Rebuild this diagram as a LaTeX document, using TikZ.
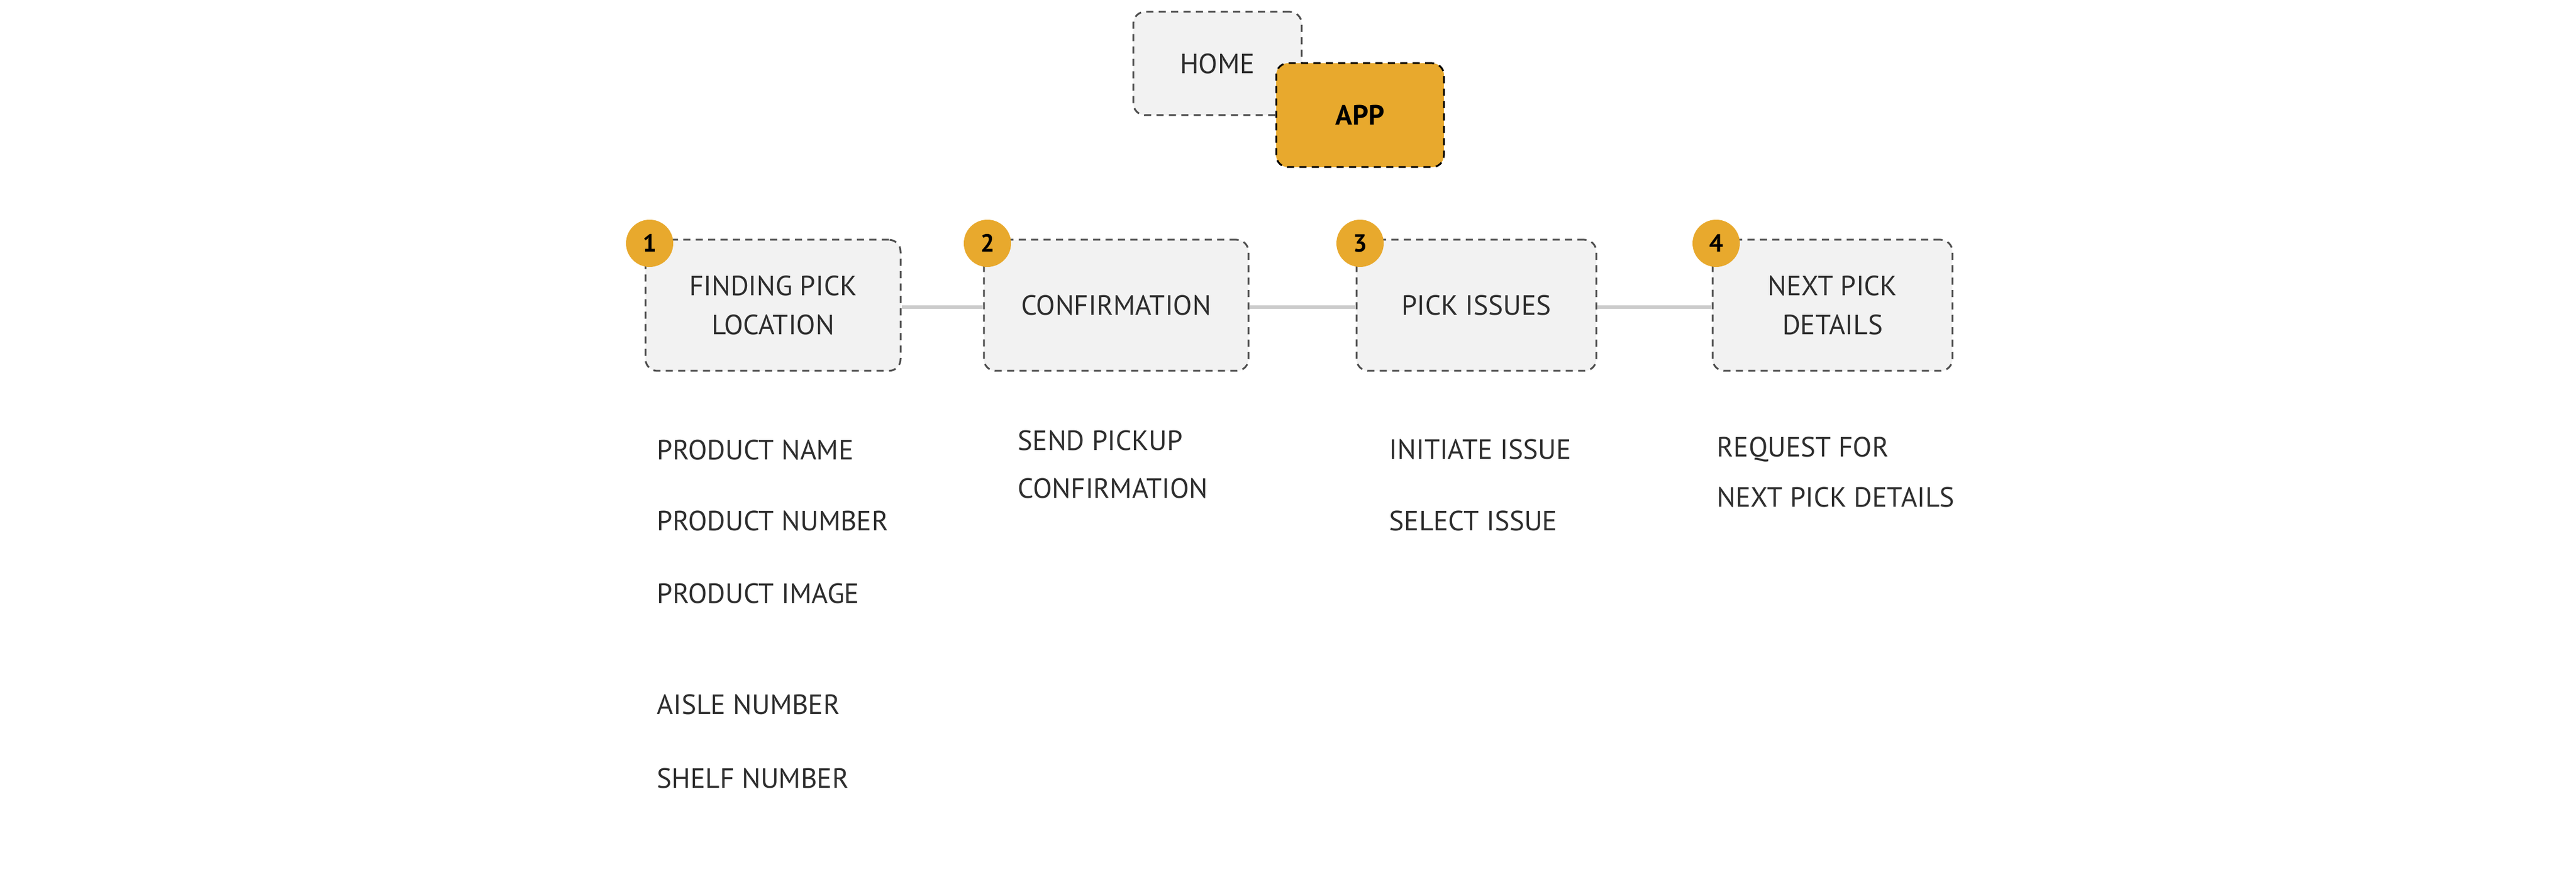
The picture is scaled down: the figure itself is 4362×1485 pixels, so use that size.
\documentclass[tikz,border=0pt]{standalone}
\usepackage{fontspec}
\setmainfont{PT Sans}
\begin{document}
\begin{tikzpicture}[x=0.25pt,y=-0.25pt,
  every node/.style={font=\fontsize{11.8}{16.5}\selectfont},
  stepbox/.style={draw=boxborder, fill=boxfill, dash pattern=on 3pt off 2.25pt, line width=0.75pt,
    rounded corners=5pt, minimum height=55.5pt, align=center, text=textdark, inner sep=0pt},
  badge/.style={circle, fill=gold, minimum size=20pt, inner sep=0pt,
    font=\fontsize{10.5}{12}\selectfont\bfseries, text=black},
  item/.style={anchor=west, text=textdark, inner sep=0pt},
  link/.style={draw=linegray, line width=1.5pt}
]
\definecolor{boxfill}{HTML}{F2F2F2}
\definecolor{boxborder}{HTML}{4D4D4D}
\definecolor{gold}{HTML}{E8A92D}
\definecolor{textdark}{HTML}{2D2D2D}
\definecolor{linegray}{HTML}{CCCCCC}
\useasboundingbox (0,0) rectangle (4362,1485);

% top
\node[stepbox, minimum width=71.25pt, minimum height=43.75pt] (home) at (2061.5,107.5) {HOME};
\node[stepbox, draw=black, fill=gold, text=black, minimum width=71pt, minimum height=44pt,
  font=\fontsize{11.8}{16.5}\selectfont\bfseries] (app) at (2303,195) {APP};

% steps
\node[stepbox, minimum width=108pt] (s1) at (1309,517) {FINDING PICK\\LOCATION};
\node[stepbox, minimum width=112pt] (s2) at (1890,517) {CONFIRMATION};
\node[stepbox, minimum width=101.5pt] (s3) at (2500,517) {PICK ISSUES};
\node[stepbox, minimum width=101.5pt] (s4) at (3103,517) {NEXT PICK\\DETAILS};

\draw[link] ([yshift=-0.75pt]s1.east) -- ([yshift=-0.75pt]s2.west);
\draw[link] ([yshift=-0.75pt]s2.east) -- ([yshift=-0.75pt]s3.west);
\draw[link] ([yshift=-0.75pt]s3.east) -- ([yshift=-0.75pt]s4.west);

\node[badge] (b1) at (1100,412) {1};
\node[badge] (b2) at (1672,412) {2};
\node[badge] (b3) at (2303,412) {3};
\node[badge] (b4) at (2906,412) {4};

% lists
\node[item] (p1) at (1112,762) {PRODUCT NAME};
\node[item] (p2) at (1112,882) {PRODUCT NUMBER};
\node[item] (p3) at (1112,1005) {PRODUCT IMAGE};
\node[item] (p4) at (1112,1193) {AISLE NUMBER};
\node[item] (p5) at (1112,1318) {SHELF NUMBER};

\node[item] (c1) at (1723,746) {SEND PICKUP};
\node[item] (c2) at (1723,827) {CONFIRMATION};

\node[item] (i1) at (2352,761) {INITIATE ISSUE};
\node[item] (i2) at (2352,882) {SELECT ISSUE};

\node[item] (n1) at (2907,761) {REQUEST FOR};
\node[item] (n2) at (2907,842) {NEXT PICK DETAILS};
\end{tikzpicture}
\end{document}
